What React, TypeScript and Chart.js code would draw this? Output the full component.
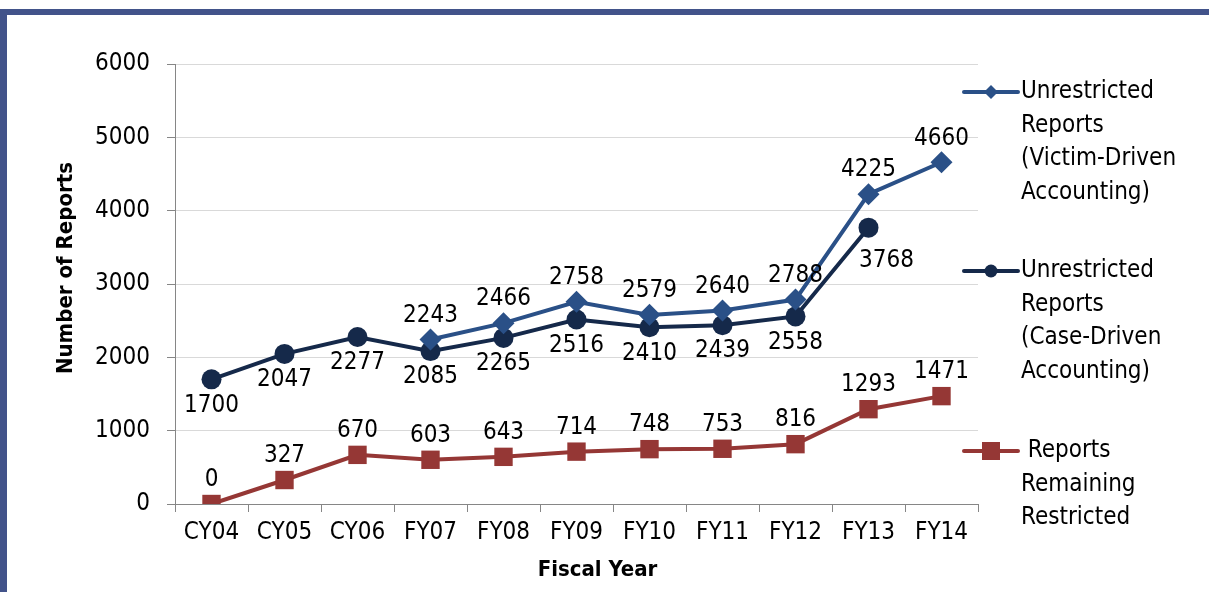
import React, { useEffect, useRef } from "react";
import { Chart, registerables } from "chart.js";

Chart.register(...registerables);

const categories = ["CY04", "CY05", "CY06", "FY07", "FY08", "FY09", "FY10", "FY11", "FY12", "FY13", "FY14"];
const victimDriven = [null, null, null, 2243, 2466, 2758, 2579, 2640, 2788, 4225, 4660];
const caseDriven = [1700, 2047, 2277, 2085, 2265, 2516, 2410, 2439, 2558, 3768, null];
const remainingRestricted = [0, 327, 670, 603, 643, 714, 748, 753, 816, 1293, 1471];
const legendLines = [
  ["Unrestricted", "Reports", "(Victim-Driven", "Accounting)"],
  ["Unrestricted", "Reports", "(Case-Driven", "Accounting)"],
  [" Reports", "Remaining", "Restricted"],
];
const yTicks = [0, 1000, 2000, 3000, 4000, 5000, 6000];
const xTitle = "Fiscal Year";
const yTitle = "Number of Reports";

const FONT = "'Liberation Sans Narrow', 'Arial Narrow', 'DejaVu Sans Condensed', sans-serif";
const BLUE = "#2a5087";
const NAVY = "#15294a";
const RED = "#953735";
const TXT = 24;

const dataLabelPlugin = {
  id: "dataLabels",
  afterDatasetsDraw(chart: any) {
    const ctx = chart.ctx;
    ctx.save();
    ctx.font = `${TXT}px ${FONT}`;
    ctx.fillStyle = "#000";
    ctx.textAlign = "center";
    ctx.textBaseline = "middle";
    chart.data.datasets.forEach((ds: any, di: number) => {
      const meta = chart.getDatasetMeta(di);
      ds.data.forEach((v: any, i: number) => {
        if (v === null || v === undefined) return;
        const el = meta.data[i];
        let dx = 0;
        let dy = ds.labelPos === "below" ? 26 : -24;
        if (ds.labelShift && ds.labelShift.index === i) {
          dx += ds.labelShift.dx;
          dy += ds.labelShift.dy;
        }
        ctx.fillText(String(v), el.x + dx, el.y + dy);
      });
    });
    ctx.restore();
  },
};

const axisTitlePlugin = {
  id: "axisTitles",
  afterDraw(chart: any) {
    const ctx = chart.ctx;
    const area = chart.chartArea;
    ctx.save();
    ctx.fillStyle = "#000";
    ctx.font = `bold 22px ${FONT}`;
    ctx.textAlign = "center";
    ctx.textBaseline = "middle";
    ctx.fillText(xTitle, (area.left + area.right) / 2 + 21, area.bottom + 66);
    ctx.translate(66, (area.top + area.bottom) / 2 - 16);
    ctx.rotate(-Math.PI / 2);
    ctx.fillText(yTitle, 0, 0);
    ctx.restore();
  },
};

const legendPlugin = {
  id: "sideLegend",
  afterDraw(chart: any) {
    const ctx = chart.ctx;
    const area = chart.chartArea;
    const starts = [92, 271, 451];
    const lineGap = 33.5;
    const x0 = area.right - 14;
    const x1 = area.right + 40;
    ctx.save();
    chart.data.datasets.forEach((ds: any, di: number) => {
      const y = starts[di];
      ctx.strokeStyle = ds.borderColor;
      ctx.lineWidth = 4;
      ctx.lineCap = "round";
      ctx.beginPath();
      ctx.moveTo(x0, y);
      ctx.lineTo(x1, y);
      ctx.stroke();
      const cx = (x0 + x1) / 2;
      ctx.fillStyle = ds.backgroundColor;
      ctx.beginPath();
      if (ds.pointStyle === "rectRot") {
        const r = 7;
        ctx.moveTo(cx - r, y);
        ctx.lineTo(cx, y - r);
        ctx.lineTo(cx + r, y);
        ctx.lineTo(cx, y + r);
        ctx.closePath();
      } else if (ds.pointStyle === "circle") {
        ctx.arc(cx, y, 6.5, 0, Math.PI * 2);
      } else {
        ctx.rect(cx - 9, y - 9, 18, 18);
      }
      ctx.fill();
      ctx.fillStyle = "#000";
      ctx.font = `${TXT}px ${FONT}`;
      ctx.textAlign = "left";
      ctx.textBaseline = "middle";
      legendLines[di].forEach((line, li) => {
        ctx.fillText(line, x1 + 3, y + li * lineGap);
      });
    });
    ctx.restore();
  },
};

export default function App() {
  const ref = useRef<HTMLCanvasElement | null>(null);

  useEffect(() => {
    if (!ref.current) return;
    const chart = new Chart(ref.current, {
      type: "line",
      data: {
        labels: categories,
        datasets: [
          {
            label: legendLines[0].join(" "),
            data: victimDriven,
            borderColor: BLUE,
            backgroundColor: BLUE,
            borderWidth: 4,
            pointStyle: "rectRot",
            pointRadius: 11,
            pointBorderWidth: 0,
            labelPos: "above",
          } as any,
          {
            label: legendLines[1].join(" "),
            data: caseDriven,
            borderColor: NAVY,
            backgroundColor: NAVY,
            borderWidth: 4,
            pointStyle: "circle",
            pointRadius: 10,
            pointBorderWidth: 0,
            labelPos: "below",
            labelShift: { index: 9, dx: 18, dy: 7 },
          } as any,
          {
            label: legendLines[2].join(" "),
            data: remainingRestricted,
            borderColor: RED,
            backgroundColor: RED,
            borderWidth: 4,
            pointStyle: "rect",
            pointRadius: 13,
            pointBorderWidth: 0,
            labelPos: "above",
          } as any,
        ],
      },
      options: {
        responsive: false,
        animation: false,
        layout: { padding: { left: 52, right: 231, top: 64, bottom: 0 } },
        plugins: {
          legend: { display: false },
          tooltip: { enabled: false },
        },
        scales: {
          x: {
            offset: true,
            grid: {
              offset: true,
              drawOnChartArea: false,
              drawTicks: true,
              tickLength: 8,
              tickColor: "#868686",
            },
            border: { color: "#868686", width: 1 },
            ticks: {
              color: "#000",
              font: { family: FONT, size: TXT },
              padding: 6,
              maxRotation: 0,
              autoSkip: false,
            },
            afterFit(scale: any) {
              scale.height = 88;
            },
          },
          y: {
            min: 0,
            max: 6000,
            afterBuildTicks(scale: any) {
              scale.ticks = yTicks.map((v) => ({ value: v }));
            },
            grid: {
              color: "#d9d9d9",
              lineWidth: 1,
              tickLength: 8,
              tickColor: "#868686",
            },
            border: { color: "#868686", width: 1 },
            ticks: {
              color: "#000",
              font: { family: FONT, size: TXT },
              padding: 17,
              callback: (v: any) => String(v),
            },
            afterFit(scale: any) {
              scale.width = 123;
            },
          },
        },
      },
      plugins: [dataLabelPlugin, axisTitlePlugin, legendPlugin],
    });
    return () => chart.destroy();
  }, []);

  return (
    <div style={{ position: "fixed", left: 0, top: 0, width: 1209, height: 592, background: "#fff" }}>
      <canvas ref={ref} width={1209} height={592} style={{ position: "absolute", left: 0, top: 0, width: 1209, height: 592 }} />
      <div style={{ position: "absolute", left: 0, top: 9, width: 1209, height: 6, background: "#42538a" }} />
      <div style={{ position: "absolute", left: 0, top: 9, width: 7, height: 583, background: "#42538a" }} />
    </div>
  );
}
